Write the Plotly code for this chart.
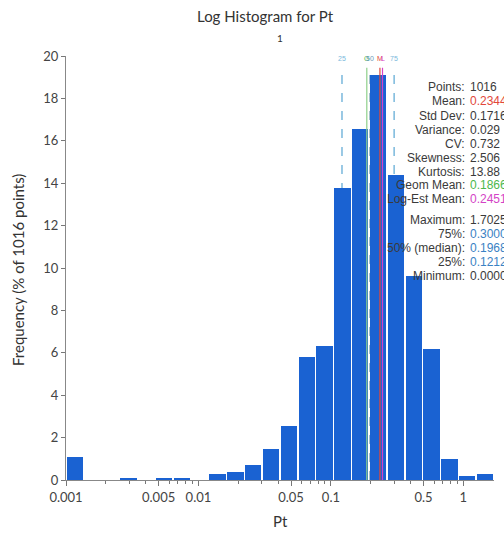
import numpy as np
import plotly.graph_objects as go

# ---- data ----
counts = [11, 0, 0, 1, 0, 1, 1, 0, 3, 4, 7, 15, 26, 59, 64, 140, 168, 194, 146, 98, 63, 10, 2, 3]
n_points = 1016
x_min = 0.001
x_max = 1.7025

tick_vals = [0.001, 0.005, 0.01, 0.05, 0.1, 0.5, 1]
tick_text = ["0.001", "0.005", "0.01", "0.05", "0.1", "0.5", "1"]
minor_vals = [0.002, 0.003, 0.004, 0.006, 0.007, 0.008, 0.009,
              0.02, 0.03, 0.04, 0.06, 0.07, 0.08, 0.09,
              0.2, 0.3, 0.4, 0.6, 0.7, 0.8, 0.9]
y_ticks = [0, 2, 4, 6, 8, 10, 12, 14, 16, 18, 20]

q25, median, q75 = 0.1212, 0.1968, 0.3000
mean, geom_mean, log_est_mean = 0.2344, 0.1866, 0.2451

stat_labels = ["Points:", "Mean:", "Std Dev:", "Variance:", "CV:", "Skewness:", "Kurtosis:",
               "Geom Mean:", "Log-Est Mean:",
               "Maximum:", "75%:", "50% (median):", "25%:", "Minimum:"]
stat_values = ["1016", "0.2344", "0.1716", "0.029", "0.732", "2.506", "13.88",
               "0.1866", "0.2451",
               "1.7025", "0.3000", "0.1968", "0.1212", "0.0000"]

# ---- derived ----
lo, hi = np.log10(x_min), np.log10(x_max)
nb = len(counts)
dk = (hi - lo) / nb
centers = lo + (np.arange(nb) + 0.5) * dk
freq = np.array(counts) / n_points * 100

BAR = "#1a62d2"
GRAY_TXT = "#3a3a3a"
RED = "#e2473a"
GREEN = "#4cb84c"
MAG = "#d443c6"
BLUE = "#3a82c4"
QBLUE = "#7ab8dc"

fig = go.Figure()
fig.add_trace(go.Bar(x=centers, y=freq, width=dk * 0.91,
                     marker=dict(color=BAR, line=dict(width=0)),
                     hoverinfo="skip"))

L, R, T, B = 66, 10, 56, 53
W, H = 504, 533
pw, ph = W - L - R, H - T - B

def px_x(px):
    return (px - L) / pw

def px_y(py):
    return (H - B - py) / ph

ytop = 19.45
shapes = []
# quartiles & median behind bars
for v, col in [(q25, QBLUE), (q75, QBLUE), (median, "#9ab8c8")]:
    shapes.append(dict(type="line", xref="x", yref="y", x0=np.log10(v), x1=np.log10(v),
                       y0=0, y1=ytop, layer="below",
                       line=dict(color=col, width=1.5, dash="dash")))
for v, col in [(geom_mean, "#8ed08a"), (mean, RED), (log_est_mean, MAG)]:
    shapes.append(dict(type="line", xref="x", yref="y", x0=np.log10(v), x1=np.log10(v),
                       y0=0, y1=ytop, layer="above",
                       line=dict(color=col, width=1.2)))

ann = []
# line labels on top
for v, txt, col in [(q25, "25", QBLUE), (geom_mean, "G", GREEN), (median, "50", "#6a9ab8"),
                    (mean, "M", RED), (log_est_mean, "L", MAG), (q75, "75", QBLUE)]:
    ann.append(dict(x=np.log10(v), xref="x", y=px_y(58), yref="paper", text=txt,
                    showarrow=False, font=dict(family="Liberation Sans", size=7, color=col),
                    xanchor="center", yanchor="middle"))

# stats block
val_colors = [GRAY_TXT, RED, GRAY_TXT, GRAY_TXT, GRAY_TXT, GRAY_TXT, GRAY_TXT,
              GREEN, MAG, GRAY_TXT, BLUE, BLUE, BLUE, GRAY_TXT]
ys = [87, 101.5, 116, 130, 144, 157.5, 171.5, 185, 199, 220, 234, 248, 262, 276]
for lab, val, col, yy in zip(stat_labels, stat_values, val_colors, ys):
    ann.append(dict(x=px_x(467), xref="paper", y=px_y(yy), yref="paper", text=lab,
                    showarrow=False, xanchor="right", yanchor="middle",
                    font=dict(family="Liberation Sans", size=12, color=GRAY_TXT)))
    ann.append(dict(x=px_x(467.5), xref="paper", y=px_y(yy), yref="paper", text=val,
                    showarrow=False, xanchor="left", yanchor="middle",
                    font=dict(family="Liberation Sans", size=12, color=col)))

# titles
ann.append(dict(x=px_x(265), xref="paper", y=px_y(16), yref="paper", text="Log Histogram for Pt",
                showarrow=False, xanchor="center", yanchor="middle",
                font=dict(family="Lato", size=15, color="#333")))
ann.append(dict(x=px_x(280), xref="paper", y=px_y(38), yref="paper", text="1",
                showarrow=False, xanchor="center", yanchor="middle",
                font=dict(family="Lato", size=10, color="#333")))
ann.append(dict(x=px_x(280), xref="paper", y=px_y(521), yref="paper", text="Pt",
                showarrow=False, xanchor="center", yanchor="middle",
                font=dict(family="Lato", size=15, color="#333")))
ann.append(dict(x=px_x(18), xref="paper", y=px_y(270), yref="paper",
                text="Frequency (% of 1016 points)", textangle=-90,
                showarrow=False, xanchor="center", yanchor="middle",
                font=dict(family="Lato", size=15, color="#333")))

fig.update_layout(
    width=W, height=H,
    margin=dict(l=L, r=R, t=T, b=B),
    plot_bgcolor="white", paper_bgcolor="white",
    showlegend=False, bargap=0,
    shapes=shapes, annotations=ann,
    xaxis=dict(range=[lo, hi], tickmode="array",
               tickvals=[np.log10(v) for v in tick_vals], ticktext=tick_text,
               ticks="outside", ticklen=5, tickcolor="#777", showline=True, linecolor="#888",
               showgrid=False, zeroline=False,
               tickfont=dict(family="Lato", size=13, color="#444"),
               minor=dict(tickmode="array", tickvals=[np.log10(v) for v in minor_vals],
                          ticks="outside", ticklen=3, tickcolor="#777", showgrid=False)),
    yaxis=dict(range=[0, 20], tickmode="array", tickvals=y_ticks,
               ticks="outside", ticklen=4, tickcolor="#777", showline=True, linecolor="#888",
               showgrid=False, zeroline=False,
               tickfont=dict(family="Lato", size=13, color="#444")),
)

fig.write_html("out.html")
